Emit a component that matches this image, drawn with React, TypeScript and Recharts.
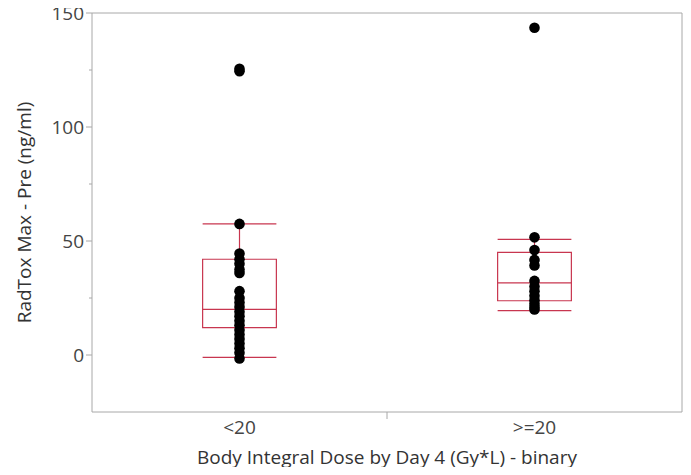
import React from 'react';
import {
    ComposedChart,
    Scatter,
    XAxis,
    YAxis,
    ReferenceArea,
    ReferenceLine,
} from 'recharts';

const RED = '#c8364f';
const AXIS = '#a8a8a8';
const FONT = '"Open Sans", sans-serif';

// groups on the x axis, placed at 0.5 and 1.5
const categories = ['<20', '>=20'];
const groupPos = [0.5, 1.5];

// observations per group (ng/ml)
const lowDose = [
    125.5, 124.5, 57.5, 44.5, 42, 40, 37.5, 36, 28, 25, 23, 21, 19, 17, 15, 13, 11, 9, 7, 5, 3, 1, -1.5,
];
const highDose = [143.5, 51.6, 46, 41.7, 39.3, 32.5, 30, 28, 26, 24, 22.5, 21, 20];

// box statistics per group
const whiskerLow = [-1, 19.5];
const quart1 = [12, 23.8];
const medians = [20, 31.6];
const quart3 = [42, 45];
const whiskerHigh = [57.5, 50.7];

const yTicks = [0, 25, 50, 75, 100, 125, 150];
const BOX_HALF = 0.125;

const lowData = lowDose.map((v) => ({ x: groupPos[0], y: v }));
const highData = highDose.map((v) => ({ x: groupPos[1], y: v }));

const Dot = (p: any) => <circle cx={p.cx} cy={p.cy} r={5.3} fill="#000" />;

const YTick = ({ x, y, payload }: any) => {
    const major = payload.value % 50 === 0;
    return (
        <g>
            <line x1={x - (major ? 6 : 3)} x2={x} y1={y} y2={y} stroke={AXIS} />
            {major && (
                <text x={x - 8} y={y} textAnchor="end" dominantBaseline="central"
                    fontFamily={FONT} fontSize={19} fill="#444">
                    {payload.value}
                </text>
            )}
        </g>
    );
};

const XTick = ({ x, y, payload }: any) => {
    const idx = groupPos.indexOf(payload.value);
    if (idx < 0) {
        return <line x1={x} x2={x} y1={y} y2={y + 7} stroke={AXIS} />;
    }
    return (
        <text x={x} y={y + 22} textAnchor="middle" fontFamily={FONT} fontSize={19} fill="#444">
            {categories[idx]}
        </text>
    );
};

export default function App() {
    return (
        <div>
            <style>{'.recharts-surface { overflow: visible; }'}</style>
            <ComposedChart width={675} height={459} margin={{ top: 5, right: 1, bottom: 0, left: 0 }}>
                <XAxis
                    type="number"
                    dataKey="x"
                    domain={[0, 2]}
                    ticks={[0.5, 1, 1.5]}
                    tick={<XTick />}
                    tickLine={false}
                    tickSize={0}
                    tickMargin={0}
                    axisLine={{ stroke: AXIS }}
                    height={55}
                    interval={0}
                    label={{
                        content: ({ viewBox }: any) => (
                            <text x={viewBox.x + viewBox.width / 2} y={viewBox.y + 52} textAnchor="middle"
                                fontFamily={FONT} fontSize={19} fill="#333">
                                Body Integral Dose by Day 4 (Gy*L) - binary
                            </text>
                        ),
                    }}
                />
                <YAxis
                    type="number"
                    dataKey="y"
                    domain={[-25, 150]}
                    ticks={yTicks}
                    tick={<YTick />}
                    tickLine={false}
                    tickSize={0}
                    tickMargin={0}
                    axisLine={{ stroke: AXIS }}
                    width={84}
                    interval={0}
                    label={{
                        content: ({ viewBox }: any) => {
                            const cx = 16;
                            const cy = viewBox.y + viewBox.height / 2;
                            return (
                                <text x={cx} y={cy} transform={`rotate(-90 ${cx} ${cy})`} textAnchor="middle"
                                    dominantBaseline="central" fontFamily={FONT} fontSize={19} fill="#333">
                                    RadTox Max - Pre (ng/ml)
                                </text>
                            );
                        },
                    }}
                />
                <ReferenceLine y={150} stroke={AXIS} />
                <ReferenceLine x={2} stroke={AXIS} />
                {groupPos.map((c, i) => (
                    <ReferenceArea key={`box-${i}`} x1={c - BOX_HALF} x2={c + BOX_HALF} y1={quart1[i]} y2={quart3[i]}
                        fill="none" fillOpacity={0} stroke={RED} strokeWidth={1.2} ifOverflow="visible" />
                ))}
                {groupPos.map((c, i) => (
                    <ReferenceLine key={`med-${i}`} segment={[{ x: c - BOX_HALF, y: medians[i] }, { x: c + BOX_HALF, y: medians[i] }]}
                        stroke={RED} strokeWidth={1.2} ifOverflow="visible" />
                ))}
                {groupPos.map((c, i) => (
                    <ReferenceLine key={`wl-${i}`} segment={[{ x: c - BOX_HALF, y: whiskerLow[i] }, { x: c + BOX_HALF, y: whiskerLow[i] }]}
                        stroke={RED} strokeWidth={1.2} ifOverflow="visible" />
                ))}
                {groupPos.map((c, i) => (
                    <ReferenceLine key={`wh-${i}`} segment={[{ x: c - BOX_HALF, y: whiskerHigh[i] }, { x: c + BOX_HALF, y: whiskerHigh[i] }]}
                        stroke={RED} strokeWidth={1.2} ifOverflow="visible" />
                ))}
                {groupPos.map((c, i) => (
                    <ReferenceLine key={`vu-${i}`} segment={[{ x: c, y: quart3[i] }, { x: c, y: whiskerHigh[i] }]}
                        stroke={RED} strokeWidth={1.2} ifOverflow="visible" />
                ))}
                {groupPos.map((c, i) => (
                    <ReferenceLine key={`vd-${i}`} segment={[{ x: c, y: whiskerLow[i] }, { x: c, y: quart1[i] }]}
                        stroke={RED} strokeWidth={1.2} ifOverflow="visible" />
                ))}
                <Scatter data={lowData} shape={Dot} isAnimationActive={false} />
                <Scatter data={highData} shape={Dot} isAnimationActive={false} />
            </ComposedChart>
        </div>
    );
}
